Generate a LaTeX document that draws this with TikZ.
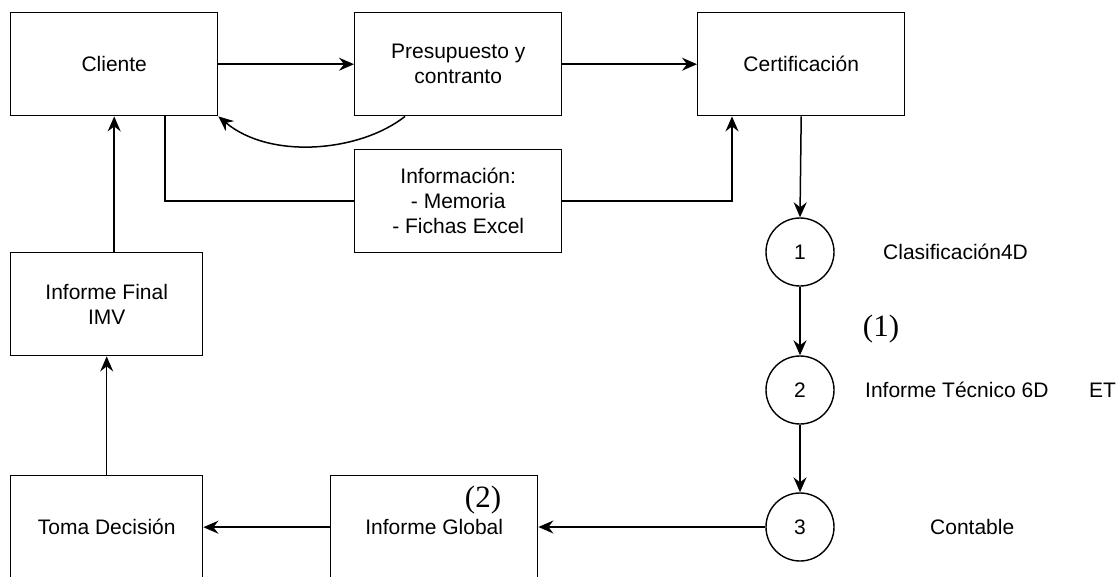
\documentclass[tikz,border=0pt]{standalone}
\usepackage{fontspec}
\setmainfont{Liberation Sans}
\newfontfamily\serifnum{Liberation Serif}
\usetikzlibrary{arrows.meta,calc}
\begin{document}
\begin{tikzpicture}[x=1pt,y=-1pt,
  box/.style={draw,line width=1.4pt,minimum width=207pt,minimum height=103pt,inner sep=0pt,align=center,anchor=north west,font=\fontsize{21}{25}\selectfont},
  circ/.style={draw,circle,line width=1.4pt,minimum size=68pt,inner sep=0pt,font=\fontsize{21}{25}\selectfont},
  lbl/.style={inner sep=0pt,anchor=west,font=\fontsize{21}{25}\selectfont},
  num/.style={inner sep=0pt,font=\serifnum\fontsize{31}{35}\selectfont},
  conn/.style={line width=1.5pt},
  arr/.style={conn,-{Stealth[length=15pt,width=13pt,inset=5pt]}}]
\useasboundingbox (0,0) rectangle (1116,576);
\clip (0,0) rectangle (1116,576);
\node[box] (cli) at (10,12) {Cliente};
\node[box] (pre) at (354,12) {Presupuesto y\\contranto};
\node[box] (cer) at (697,12) {Certificación};
\node[box] (inf) at (354,149) {Información:\\- Memoria\\- Fichas Excel};
\node[box,minimum width=192pt] (fin) at (10,252) {Informe Final\\IMV};
\node[box,minimum width=192pt] (tom) at (10,475) {Toma Decisión};
\node[box] (glo) at (330,475) {Informe Global};
\node[circ] (c1) at (800,252) {1};
\node[circ] (c2) at (800,390) {2};
\node[circ] (c3) at (800,527) {3};
\node[lbl] (l1) at (883,252) {Clasificación4D};
\node[lbl] (l2) at (865,390) {Informe Técnico 6D};
\node[lbl] (l2b) at (1089,390) {ET};
\node[lbl] (l3) at (930,527) {Contable};
\node[num] (n1) at (881,329) {(1)};
\node[num] (n2) at (483,500) {(2)};
\coordinate (cs) at ($(pre.south west)+(51,0)$);
\coordinate (ib) at ($(cli.south west)+(155,0)$);
\coordinate (ct) at ($(cer.south west)+(35,0)$);
\draw[arr] (cli.east) -- (pre.west);
\draw[arr] (pre.east) -- (cer.west);
\draw[arr] (cs) .. controls (360,152) and (270,160) .. (cli.south east);
\draw[conn] (ib) |- (inf.west);
\draw[arr] (inf.east) -| (ct);
\draw[arr] (cer.south) -- (c1.north);
\draw[arr] (c1.south) -- (c2.north);
\draw[arr] (c2.south) -- (c3.north);
\draw[arr] (c3.west) -- (glo.east |- c3.west);
\draw[arr] (glo.west |- tom.east) -- (tom.east);
\draw[arr] (tom.north) -- (fin.south);
\draw[arr] (fin.north -| cli.south) -- (cli.south);
\end{tikzpicture}
\end{document}
